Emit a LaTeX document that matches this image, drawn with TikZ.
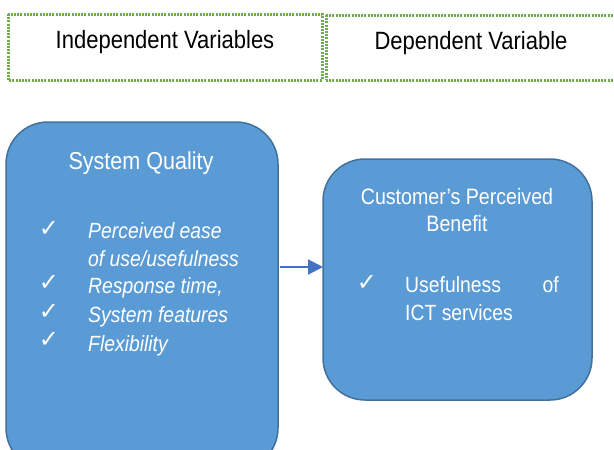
\documentclass[tikz,border=0pt]{standalone}
\usepackage{fontspec}
\setmainfont{Liberation Sans}[FakeStretch=0.88]
\newfontfamily\symfont{DejaVu Sans}
\usetikzlibrary{arrows.meta}
\definecolor{boxfill}{HTML}{5B9BD5}
\definecolor{boxline}{HTML}{41719C}
\definecolor{arrowblue}{HTML}{4472C4}
\definecolor{dotgreen}{HTML}{70AD47}
\tikzset{
  x=1pt, y=-1pt,
  headbox/.style={draw=dotgreen, line width=3pt, dash pattern=on 2pt off 1.2pt},
  bluebox/.style={draw=boxline, line width=1.5pt, fill=boxfill, rounded corners=42pt},
  wtext/.style={text=white, inner sep=0pt},
  tick/.style={text=white, inner sep=0pt, font=\symfont\fontsize{24}{24}\selectfont},
  link/.style={draw=arrowblue, line width=2pt, -{Triangle[length=15pt,width=15pt]}}
}
\begin{document}
\begin{tikzpicture}
\useasboundingbox (0,0) rectangle (614,450);
% column headings
\draw[headbox] (8,14) rectangle (322,80);
\draw[headbox] (326,15) -- (618,15) (326,80) -- (618,80) (326,15) -- (326,80);
\node[inner sep=0pt, font=\fontsize{25}{25}\selectfont] (indep) at (165,42) {Independent Variables};
\node[inner sep=0pt, font=\fontsize{25}{25}\selectfont] (dep) at (471,43) {Dependent Variable};
% independent variable box
\draw[bluebox] (6,122) rectangle (278,470);
\node[wtext, font=\fontsize{24.5}{24.5}\selectfont] (sq) at (141,163) {System Quality};
\begin{scope}[font=\itshape\fontsize{22}{22}\selectfont]
\node[wtext, anchor=west] (i1) at (88,231) {Perceived ease};
\node[wtext, anchor=west] (i1b) at (88,259) {of use/usefulness};
\node[wtext, anchor=west] (i2) at (88,288) {Response time,};
\node[wtext, anchor=west] (i3) at (88,317) {System features};
\node[wtext, anchor=west] (i4) at (88,346) {Flexibility};
\end{scope}
\node[tick] (c1) at (49,229) {✓};
\node[tick] (c2) at (49,283) {✓};
\node[tick] (c3) at (49,312) {✓};
\node[tick] (c4) at (49,340) {✓};
% dependent variable box
\draw[bluebox] (323,159) rectangle (592,400);
\node[wtext, font=\fontsize{22.3}{22.3}\selectfont] (cpb) at (457,197) {Customer’s Perceived};
\node[wtext, font=\fontsize{22.3}{22.3}\selectfont] (ben) at (457,224) {Benefit};
\node[tick] (c5) at (367,283) {✓};
\begin{scope}[font=\fontsize{22}{22}\selectfont]
\node[wtext, anchor=west] (u1) at (405,285) {Usefulness};
\node[wtext, anchor=east] (u2) at (559,285) {of};
\node[wtext, anchor=west] (u3) at (405,313) {ICT services};
\end{scope}
% relationship
\coordinate (src) at (280,267);
\coordinate (dst) at (323,267);
\draw[link] (src) -- (dst);
\end{tikzpicture}
\end{document}
